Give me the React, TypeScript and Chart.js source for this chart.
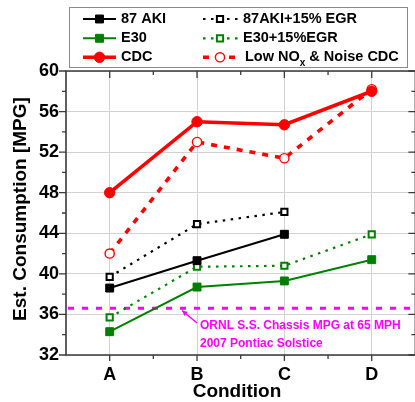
import React, { useEffect, useRef } from 'react';
import { Chart, registerables } from 'chart.js';

Chart.register(...registerables);

// ---------------- data ----------------
const categories = ['A', 'B', 'C', 'D'];
const aki87 = [38.6, 41.3, 43.9, null];
const aki87Egr = [39.7, 44.9, 46.1, null];
const e30 = [34.3, 38.7, 39.3, 41.4];
const e30Egr = [35.7, 40.7, 40.8, 43.9];
const cdc = [48.0, 55.0, 54.7, 58.0];
const lowNox = [42.0, 53.0, 51.4, 58.2];
const referenceMpg = 36.6;
const yMin = 32;
const yMax = 60;
const yStep = 4;
const yMinorStep = 2;
const seriesLabels = ['87 AKI', '87AKI+15% EGR', 'E30', 'E30+15%EGR', 'CDC', 'Low NOx & Noise CDC'];
const annotationLines = ['ORNL S.S. Chassis MPG at 65 MPH', '2007 Pontiac Solstice'];
const yTitle = 'Est. Consumption [MPG]';
const xTitle = 'Condition';

// ---------------- styles ----------------
const FONT = '"Liberation Sans", Arial, sans-serif';
const GREEN = 'rgb(0,128,0)';
const RED = '#ff0000';
const MAGENTA = '#ff00ff';
const AXIS = '#3a3a3a';
const GRID = '#d2d2d2';

type Sty = {
  color: string; width: number; dash: number[]; shape: 'rect' | 'circle';
  r: number; fill: string; pbw: number;
};
const styles: Sty[] = [
  { color: '#000', width: 2, dash: [], shape: 'rect', r: 5.6, fill: '#000', pbw: 1 },
  { color: '#000', width: 2.2, dash: [2.5, 5.5], shape: 'rect', r: 4.4, fill: '#fff', pbw: 2 },
  { color: GREEN, width: 2, dash: [], shape: 'rect', r: 5.6, fill: GREEN, pbw: 1 },
  { color: GREEN, width: 2.2, dash: [2.5, 5.5], shape: 'rect', r: 4.4, fill: '#fff', pbw: 2 },
  { color: RED, width: 3.6, dash: [], shape: 'circle', r: 5.2, fill: RED, pbw: 1 },
  { color: RED, width: 3.6, dash: [6, 7], shape: 'circle', r: 4.6, fill: '#fff', pbw: 1.4 },
];
const seriesData = [aki87, aki87Egr, e30, e30Egr, cdc, lowNox];

function drawMarker(ctx: CanvasRenderingContext2D, s: Sty, x: number, y: number) {
  ctx.save();
  ctx.setLineDash([]);
  ctx.beginPath();
  if (s.shape === 'rect') {
    const h = Math.SQRT1_2 * s.r;
    ctx.rect(x - h, y - h, 2 * h, 2 * h);
  } else {
    ctx.arc(x, y, s.r, 0, Math.PI * 2);
  }
  ctx.fillStyle = s.fill;
  ctx.fill();
  ctx.lineWidth = s.pbw;
  ctx.strokeStyle = s.color;
  ctx.stroke();
  ctx.restore();
}

const decorPlugin = {
  id: 'decor',
  beforeDatasetsDraw(chart: any) {
    const { ctx, chartArea: a, scales } = chart;
    const y = scales.y.getPixelForValue(referenceMpg);
    ctx.save();
    ctx.beginPath();
    ctx.rect(a.left, a.top, a.right - a.left, a.bottom - a.top);
    ctx.clip();
    ctx.strokeStyle = MAGENTA;
    ctx.lineWidth = 3;
    ctx.setLineDash([6, 8]);
    ctx.beginPath();
    ctx.moveTo(a.left + 2, y);
    ctx.lineTo(a.right, y);
    ctx.stroke();
    ctx.restore();
  },
  afterDraw(chart: any) {
    const { ctx, chartArea: a, scales } = chart;
    const xs = scales.x;
    const ys = scales.y;
    ctx.save();
    // frame
    ctx.strokeStyle = AXIS;
    ctx.lineWidth = 1.6;
    ctx.setLineDash([]);
    ctx.beginPath();
    ctx.moveTo(a.left, a.top);
    ctx.lineTo(a.right, a.top);
    ctx.lineTo(a.right, a.bottom);
    ctx.lineTo(a.left, a.bottom);
    ctx.closePath();
    ctx.stroke();
    // y ticks
    ctx.lineWidth = 1.3;
    for (let v = yMin; v <= yMax + 1e-9; v += yMinorStep) {
      const py = ys.getPixelForValue(v);
      const major = Math.abs((v - yMin) % yStep) < 1e-6;
      const len = major ? 7 : 4;
      ctx.beginPath();
      ctx.moveTo(a.left - len, py);
      ctx.lineTo(a.left, py);
      ctx.moveTo(a.right, py);
      ctx.lineTo(a.right - len, py);
      ctx.stroke();
    }
    // x ticks
    for (let i = 0; i < categories.length; i++) {
      const px = xs.getPixelForValue(i);
      ctx.beginPath();
      ctx.moveTo(px, a.bottom);
      ctx.lineTo(px, a.bottom + 6);
      ctx.moveTo(px, a.top);
      ctx.lineTo(px, a.top + 7);
      ctx.stroke();
      if (i < categories.length - 1) {
        const mx = (px + xs.getPixelForValue(i + 1)) / 2;
        ctx.beginPath();
        ctx.moveTo(mx, a.bottom);
        ctx.lineTo(mx, a.bottom + 4);
        ctx.moveTo(mx, a.top);
        ctx.lineTo(mx, a.top + 4);
        ctx.stroke();
      }
    }
    // axis titles
    ctx.fillStyle = '#000';
    ctx.font = `bold 19px ${FONT}`;
    ctx.textAlign = 'center';
    ctx.textBaseline = 'alphabetic';
    ctx.fillText(xTitle, 237, 397);
    ctx.save();
    ctx.translate(26, 209);
    ctx.rotate(-Math.PI / 2);
    ctx.fillText(yTitle, 0, 0);
    ctx.restore();

    // annotation arrow
    ctx.strokeStyle = MAGENTA;
    ctx.fillStyle = MAGENTA;
    ctx.lineWidth = 1.5;
    const tx = 182, ty = 310.5, sx = 197, sy = 323;
    ctx.beginPath();
    ctx.moveTo(sx, sy);
    ctx.lineTo(tx, ty);
    ctx.stroke();
    const ang = Math.atan2(ty - sy, tx - sx);
    ctx.beginPath();
    ctx.moveTo(tx, ty);
    ctx.lineTo(tx - 6 * Math.cos(ang - 0.45), ty - 6 * Math.sin(ang - 0.45));
    ctx.lineTo(tx - 6 * Math.cos(ang + 0.45), ty - 6 * Math.sin(ang + 0.45));
    ctx.closePath();
    ctx.fill();
    ctx.font = `bold 12px ${FONT}`;
    ctx.textAlign = 'left';
    ctx.textBaseline = 'middle';
    ctx.fillText(annotationLines[0], 200, 326);
    ctx.fillText(annotationLines[1], 200, 344);

    // legend box
    ctx.fillStyle = '#fff';
    ctx.fillRect(69, 7, 339, 61);
    ctx.strokeStyle = '#8a8a8a';
    ctx.lineWidth = 1;
    ctx.strokeRect(69.5, 7.5, 338, 60);
    const rows = [19, 38.3, 57.3];
    const order = [0, 2, 4, 1, 3, 5];
    order.forEach((si, k) => {
      const col = k < 3 ? 0 : 1;
      const row = k % 3;
      const s = styles[si];
      const y = rows[row];
      const x0 = col === 0 ? 83 : 203;
      const x1 = col === 0 ? 116 : 238;
      const mx = col === 0 ? 99.5 : 220;
      ctx.save();
      ctx.strokeStyle = s.color;
      ctx.lineWidth = s.width;
      ctx.setLineDash(s.dash);
      ctx.beginPath();
      ctx.moveTo(x0, y);
      ctx.lineTo(x1, y);
      ctx.stroke();
      ctx.restore();
      drawMarker(ctx, s, mx, y);
      ctx.fillStyle = '#000';
      ctx.font = `bold 14.5px ${FONT}`;
      ctx.textAlign = 'left';
      ctx.textBaseline = 'middle';
      const tx0 = col === 0 ? 121 : 243;
      const label = seriesLabels[si];
      if (si === 5) {
        const parts = label.split('NOx');
        const p1 = parts[0] + 'NO';
        const xx = tx0 + 2;
        ctx.fillText(p1, xx, y);
        const w1 = ctx.measureText(p1).width;
        ctx.font = `bold 10px ${FONT}`;
        ctx.fillText('x', xx + w1, y + 6);
        const w2 = ctx.measureText('x').width;
        ctx.font = `bold 14.5px ${FONT}`;
        ctx.fillText(parts[1], xx + w1 + w2, y);
      } else {
        ctx.fillText(label, tx0, y);
      }
    });
    ctx.restore();
  },
};

export default function App() {
  const ref = useRef<HTMLCanvasElement | null>(null);
  useEffect(() => {
    if (!ref.current) return;
    const chart = new Chart(ref.current, {
      type: 'line',
      data: {
        labels: categories,
        datasets: seriesData.map((d, i) => {
          const s = styles[i];
          return {
            label: seriesLabels[i],
            data: d,
            borderColor: s.color,
            backgroundColor: s.fill,
            borderWidth: s.width,
            borderDash: s.dash,
            pointStyle: s.shape,
            pointRadius: s.r,
            pointHoverRadius: s.r,
            pointBackgroundColor: s.fill,
            pointBorderColor: s.color,
            pointBorderWidth: s.pbw,
            fill: false,
            tension: 0,
            spanGaps: false,
          };
        }),
      },
      options: {
        responsive: false,
        animation: false,
        devicePixelRatio: 1,
        layout: { padding: { top: 71, right: 6, left: 0, bottom: 0 } },
        plugins: { legend: { display: false }, tooltip: { enabled: false }, title: { display: false } },
        events: [],
        scales: {
          x: {
            type: 'category',
            offset: true,
            grid: { offset: false, color: GRID, lineWidth: 1, drawTicks: false },
            border: { display: false },
            ticks: { color: '#000', font: { family: FONT, size: 18, weight: 'bold' }, padding: 9 },
            afterFit: (s: any) => { s.height = 47; },
          },
          y: {
            min: yMin,
            max: yMax,
            grid: { color: GRID, lineWidth: 1, drawTicks: false },
            border: { display: false },
            ticks: { stepSize: yStep, color: '#000', font: { family: FONT, size: 18, weight: 'bold' }, padding: 7 },
            afterFit: (s: any) => { s.width = 66; },
          },
        },
      } as any,
      plugins: [decorPlugin],
    });
    return () => chart.destroy();
  }, []);
  return (
    <div style={{ position: 'fixed', left: 0, top: 0, width: 415, height: 402, overflow: 'hidden', background: '#fff' }}>
      <canvas ref={ref} width={422} height={402} style={{ display: 'block', width: 422, height: 402 }} />
    </div>
  );
}
